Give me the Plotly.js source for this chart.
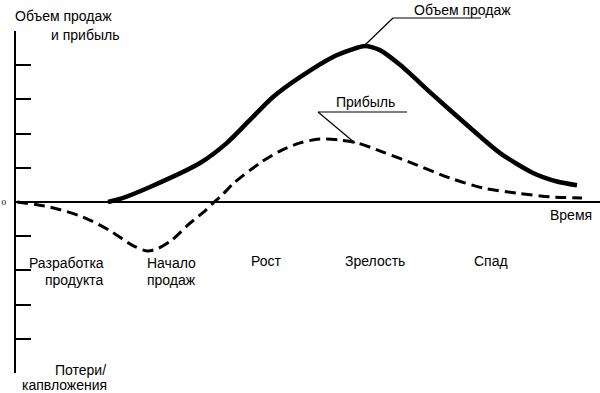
<!DOCTYPE html>
<html>
<head>
<meta charset="utf-8">
<script src="https://cdn.plot.ly/plotly-3.0.1.min.js"></script>
<style>html,body{margin:0;padding:0;background:#fff;}#chart{width:600px;height:393px;}</style>
</head>
<body>
<div id="chart"></div>
<script>
// Time axis (arbitrary units) and values (tick units)
const salesTime = [92, 104, 134, 184, 211, 234, 257, 284, 317, 334, 349, 364, 384, 417, 451, 484, 517, 541, 561];
const salesValue = [0, 0.09, 0.44, 1.14, 1.73, 2.40, 3.07, 3.65, 4.24, 4.44, 4.56, 4.44, 4.01, 3.13, 2.25, 1.43, 0.85, 0.60, 0.49];

const profitTime = [1, 34, 67, 94, 116, 131, 142, 156, 172, 189, 197, 206, 218, 244, 264, 284, 304, 324, 341, 367, 401, 434, 467, 501, 534, 566];
const profitValue = [0, -0.15, -0.44, -0.84, -1.26, -1.43, -1.36, -1.11, -0.67, -0.26, -0.03, 0.2, 0.56, 1.14, 1.49, 1.73, 1.84, 1.81, 1.73, 1.46, 1.08, 0.70, 0.41, 0.26, 0.15, 0.12];

const yTicks = [-5, -4, -3, -2, -1, 0, 1, 2, 3, 4, 5];
const yTickText = ['', '', '', '', '', '0', '', '', '', '', ''];

const stageLabels = ['Рост', 'Зрелость', 'Спад'];

const FONT = 'Liberation Sans, Arial, Helvetica, sans-serif';
const fs = 14;

const traces = [
  {x: salesTime, y: salesValue, mode: 'lines', line: {color: '#000', width: 4.5, shape: 'spline', smoothing: 0.7}, hoverinfo: 'skip'},
  {x: profitTime, y: profitValue, mode: 'lines', line: {color: '#000', width: 3, dash: '11px,6px', shape: 'spline', smoothing: 0.8}, hoverinfo: 'skip'}
];

function ann(text, x, y, xanchor) {
  return {text: text, x: x, y: y, xref: 'paper', yref: 'paper', xanchor: xanchor, yanchor: 'middle',
          showarrow: false, font: {family: FONT, size: fs, color: '#000'}};
}
const stageX = [0.399, 0.560, 0.781];
const annotations = [
  ann('Объем продаж', -0.005, 1.044, 'left'),
  ann('и прибыль', 0.056, 0.988, 'left'),
  ann('Объем продаж', 0.764, 1.061, 'center'),
  ann('Прибыль', 0.599, 0.792, 'center'),
  ann('Разработка', 0.154, 0.322, 'right'),
  ann('продукта', 0.154, 0.272, 'right'),
  ann('Начало', 0.221, 0.322, 'left'),
  ann('продаж', 0.221, 0.272, 'left'),
  ann('Время', 0.99, 0.462, 'right'),
  ann('Потери/', 0.157, 0.010, 'right'),
  ann('капвложения', 0.160, -0.036, 'right')
];
stageLabels.forEach((t, i) => annotations.push(ann(t, stageX[i], 0.327, 'left')));

const px = v => (v - 16) / 584;
const py = v => (373 - v) / 342;
const lineStyle = {color: '#000', width: 1.2};
const shapes = [
  {type: 'line', xref: 'paper', yref: 'paper', x0: px(393), y0: py(18), x1: px(481), y1: py(18), line: lineStyle},
  {type: 'line', xref: 'paper', yref: 'paper', x0: px(393), y0: py(18), x1: px(365), y1: py(45), line: lineStyle},
  {type: 'line', xref: 'paper', yref: 'paper', x0: px(318), y0: py(112), x1: px(407), y1: py(112), line: lineStyle},
  {type: 'line', xref: 'paper', yref: 'paper', x0: px(318), y0: py(112), x1: px(355), y1: py(143), line: lineStyle}
];

const layout = {
  width: 600, height: 393,
  margin: {l: 16, r: 0, t: 31, b: 20},
  paper_bgcolor: '#fff', plot_bgcolor: '#fff',
  showlegend: false,
  xaxis: {range: [0, 584], showgrid: false, zeroline: false, showline: false, showticklabels: false, ticks: '', fixedrange: true},
  yaxis: {range: [-5, 5], showgrid: false, zeroline: true, zerolinecolor: '#000', zerolinewidth: 1.8,
          showline: true, linecolor: '#000', linewidth: 2, ticks: 'inside', ticklen: 15, tickwidth: 2, tickcolor: '#000',
          tickvals: yTicks, ticktext: yTickText, ticklabelstandoff: 6,
          tickfont: {family: 'DejaVu Serif, serif', size: 8, color: '#000'}, fixedrange: true},
  annotations: annotations,
  shapes: shapes
};

Plotly.newPlot('chart', traces, layout, {displayModeBar: false, staticPlot: true});
</script>
</body>
</html>
